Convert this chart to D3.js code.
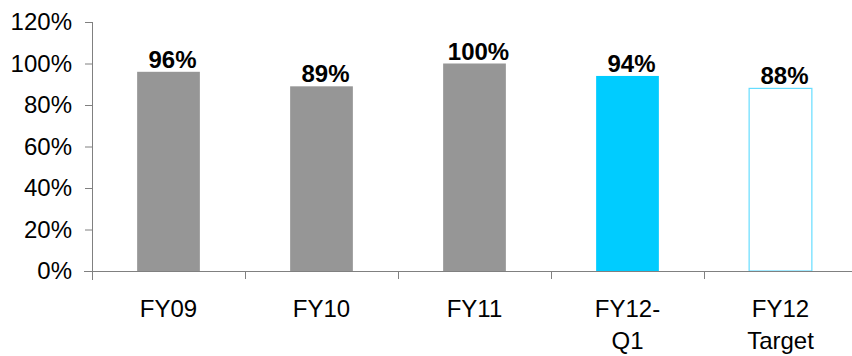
<!DOCTYPE html>
<html>
<head>
<meta charset="utf-8">
<script src="https://cdn.jsdelivr.net/npm/d3@7"></script>
<style>
  html, body { margin: 0; padding: 0; background: #fff; }
  svg { display: block; }
  text { font-family: "Liberation Sans", Arial, sans-serif; }
</style>
</head>
<body>
<svg id="chart" width="852" height="356"></svg>
<script>
const categories = [["FY09"], ["FY10"], ["FY11"], ["FY12-", "Q1"], ["FY12", "Target"]];
const values = [96, 89, 100, 94, 88];
const barKinds = ["past", "past", "past", "current", "target"];
const yTicks = [0, 20, 40, 60, 80, 100, 120];

const svg = d3.select("#chart");
const keys = categories.map(c => c.join(" "));

const x = d3.scaleBand().domain(keys).range([92, 857]).paddingInner(0).paddingOuter(0);
const y = d3.scaleLinear().domain([0, 120]).range([271, 22]);

const axisColor = "#808080";
const fills = { past: "#969696", current: "#00ccff", target: "#ffffff" };
const strokes = { past: "none", current: "none", target: "#66ddff" };

const barW = x.bandwidth() * 0.41;

// Y axis
const yAxis = d3.axisLeft(y).tickValues(yTicks).tickSize(7).tickSizeOuter(0).tickPadding(13)
  .tickFormat(d => d + "%");
const gy = svg.append("g").attr("transform", "translate(92,0)").call(yAxis);
gy.select(".domain").attr("stroke", axisColor).attr("stroke-width", 1);
gy.selectAll(".tick line").attr("stroke", axisColor);
gy.selectAll(".tick text").attr("font-size", 24).attr("fill", "#000")
  .attr("font-family", "'Liberation Sans', Arial, sans-serif");
gy.select(".domain").attr("d", "M0.5,22V280");

// Bars
svg.append("g").selectAll("rect").data(values).join("rect")
  .attr("x", (d, i) => x(keys[i]) + (x.bandwidth() - barW) / 2)
  .attr("y", d => y(d))
  .attr("width", barW)
  .attr("height", d => y(0) - y(d))
  .attr("fill", (d, i) => fills[barKinds[i]])
  .attr("stroke", (d, i) => strokes[barKinds[i]])
  .attr("stroke-width", 1.2);

// X axis
const xAxis = d3.axisBottom(x).tickSize(0).tickFormat(() => "");
const gx = svg.append("g").attr("transform", "translate(0,271)").call(xAxis);
gx.select(".domain").attr("stroke", axisColor).attr("d", "M84,0.5H852");
const tickXs = keys.map(k => x(k)).concat([x.range()[1]]);
gx.selectAll(".sep").data(tickXs).join("line").attr("class", "sep")
  .attr("x1", d => d + 0.5).attr("x2", d => d + 0.5)
  .attr("y1", 0).attr("y2", 8).attr("stroke", axisColor);

// Category labels
svg.append("g").selectAll("text").data(categories).join("text")
  .attr("x", (d, i) => x(keys[i]) + x.bandwidth() / 2)
  .attr("y", 317)
  .attr("text-anchor", "middle")
  .attr("font-size", 24)
  .attr("fill", "#000")
  .selectAll("tspan").data(d => d).join("tspan")
  .attr("x", function () { return this.parentNode.getAttribute("x"); })
  .attr("dy", (d, j) => j === 0 ? 0 : 32)
  .text(d => d);

// Value labels
svg.append("g").selectAll("text").data(values).join("text")
  .attr("x", (d, i) => x(keys[i]) + x.bandwidth() / 2 + 4)
  .attr("y", d => y(d) - 4)
  .attr("text-anchor", "middle")
  .attr("font-size", 24)
  .attr("font-weight", "bold")
  .attr("fill", "#000")
  .text(d => d + "%");
</script>
</body>
</html>
